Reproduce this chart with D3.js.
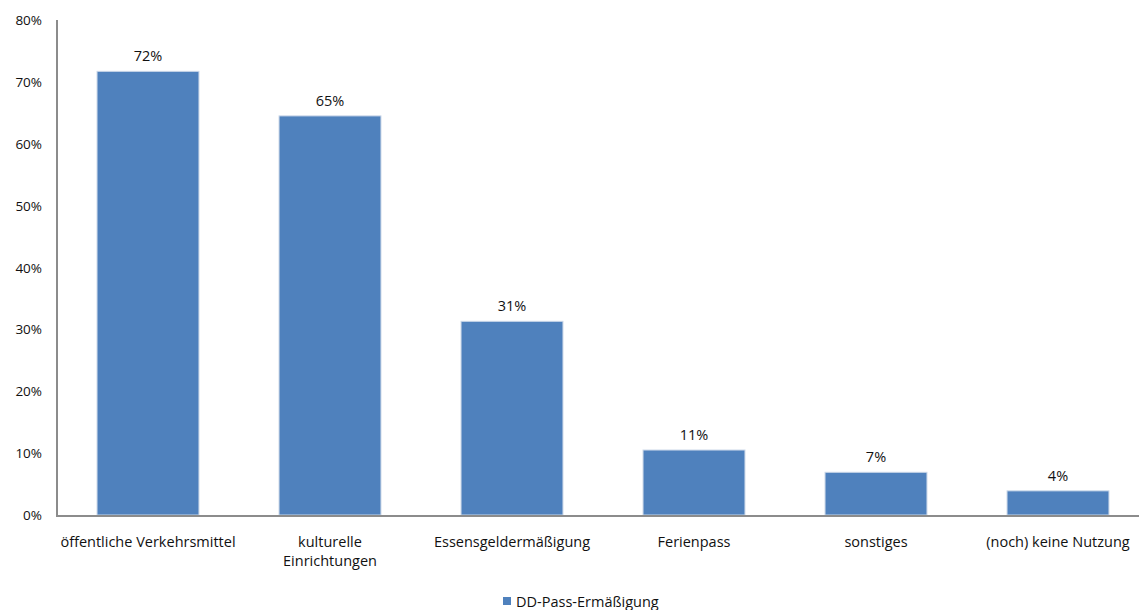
<!DOCTYPE html>
<html><head><meta charset="utf-8">
<script src="https://cdn.jsdelivr.net/npm/d3@7"></script>
<style>body{margin:0;background:#fff}text{font-family:"Open Sans","Noto Sans",sans-serif;fill:#111}</style>
</head><body><svg id="c" width="1139" height="610"></svg>
<script>
const categories = [["öffentliche Verkehrsmittel"],["kulturelle","Einrichtungen"],["Essensgeldermäßigung"],["Ferienpass"],["sonstiges"],["(noch) keine Nutzung"]];
const values = [71.7, 64.5, 31.3, 10.5, 6.9, 3.9];
const labels = ["72%","65%","31%","11%","7%","4%"];
const yTicks = [0,10,20,30,40,50,60,70,80];
const seriesName = "DD-Pass-Ermäßigung";

const svg = d3.select("#c");
const x = d3.scaleBand().domain(d3.range(values.length)).range([57,1149]).paddingInner(0.44).paddingOuter(0.22);
const y = d3.scaleLinear().domain([0,80]).range([515,20]);

svg.append("g").selectAll("text").data(yTicks).join("text")
  .attr("x",42).attr("y",d=>y(d)+5).attr("text-anchor","end").style("font-size","13.5px").text(d=>d+"%");

svg.append("g").selectAll("rect").data(values).join("rect")
  .attr("x",(d,i)=>x(i)).attr("y",d=>y(d)).attr("width",x.bandwidth()).attr("height",d=>y(0)-y(d))
  .attr("fill","#4F81BD").attr("stroke","#c9d6e8").attr("stroke-width",1);

svg.append("g").selectAll("text").data(values).join("text")
  .attr("x",(d,i)=>x(i)+x.bandwidth()/2).attr("y",d=>y(d)-10).attr("text-anchor","middle")
  .style("font-size","14.5px").text((d,i)=>labels[i]);

svg.append("line").attr("x1",57).attr("x2",57).attr("y1",20).attr("y2",516).attr("stroke","#8c8c8c").attr("stroke-width",2);
svg.append("line").attr("x1",56).attr("x2",1139).attr("y1",516).attr("y2",516).attr("stroke","#8c8c8c").attr("stroke-width",2);

const cl = svg.append("g").selectAll("text").data(categories).join("text")
  .attr("x",(d,i)=>x(i)+x.bandwidth()/2).attr("y",547).attr("text-anchor","middle").style("font-size","14.5px");
cl.each(function(d){
  const t=d3.select(this);
  d.forEach((s,j)=>t.append("tspan").attr("x",t.attr("x")).attr("dy",j?19:0).text(s));
});

svg.append("rect").attr("x",503).attr("y",597).attr("width",8).attr("height",8).attr("fill","#4F81BD");
svg.append("text").attr("x",516).attr("y",607).style("font-size","14.5px").text(seriesName);
</script></body></html>
